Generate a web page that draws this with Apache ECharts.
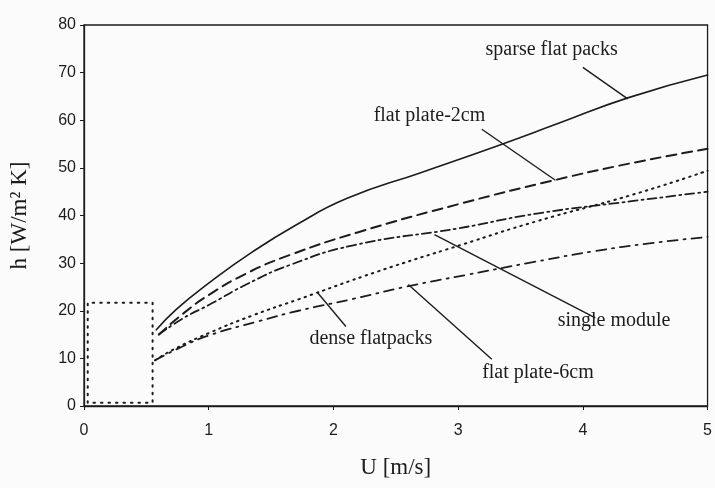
<!DOCTYPE html>
<html>
<head>
<meta charset="utf-8">
<script src="https://cdn.jsdelivr.net/npm/echarts@6/dist/echarts.min.js"></script>
<style>
  html, body { margin: 0; padding: 0; background: #fbfbfb; }
  #chart { width: 715px; height: 488px; }
</style>
</head>
<body>
<div id="chart"></div>
<script>
// values (U in m/s, h in W/m2K)
const sparseU = [0.58, 0.74, 1.0, 1.33, 1.7, 2.11, 2.7, 3.29, 3.8, 4.36, 5.0];
const sparseH = [16.0, 20.3, 25.8, 32.0, 38.0, 43.6, 49.0, 54.4, 59.3, 64.7, 69.5];

const plate2U = [0.6, 0.8, 1.0, 1.3, 1.65, 2.2, 3.02, 3.77, 4.39, 5.0];
const plate2H = [15.0, 19.5, 23.3, 27.8, 31.7, 36.5, 42.5, 47.4, 51.0, 54.0];

const singleU = [0.6, 0.8, 1.0, 1.3, 1.65, 2.17, 3.0, 3.63, 4.39, 5.0];
const singleH = [15.0, 18.5, 21.2, 25.5, 29.6, 33.8, 37.3, 40.4, 43.0, 45.0];

const denseU = [0.57, 0.72, 1.0, 1.35, 1.72, 2.35, 3.02, 3.63, 4.39, 5.0];
const denseH = [9.6, 11.9, 15.3, 19.0, 22.4, 28.2, 33.8, 38.8, 44.3, 49.4];

const plate6U = [0.57, 0.75, 1.0, 1.4, 1.72, 2.16, 2.59, 3.06, 3.6, 4.09, 4.55, 5.0];
const plate6H = [9.6, 12.0, 14.8, 17.8, 20.0, 22.5, 25.1, 27.5, 30.2, 32.5, 34.2, 35.5];

// dotted box near the origin
const boxU = [0.03, 0.03, 0.55, 0.55, 0.03];
const boxH = [0.7, 21.7, 21.7, 0.7, 0.7];

const xTicks = [0, 1, 2, 3, 4, 5];
const yTicks = [0, 10, 20, 30, 40, 50, 60, 70, 80];

// annotation texts and their leader lines (data coords)
const labelTexts = ['sparse flat packs', 'flat plate-2cm', 'dense flatpacks', 'single module', 'flat plate-6cm'];
const labelU = [3.75, 2.77, 2.30, 4.25, 3.64];
const labelH = [74.7, 60.9, 14.1, 17.9, 7.0];
const leaderFrom = [[4.00, 71.1], [3.19, 58.1], [2.10, 16.7], [4.10, 18.5], [3.27, 9.8]];
const leaderTo = [[4.36, 64.5], [3.78, 47.4], [1.87, 23.9], [2.81, 36.0], [2.60, 25.5]];

const ink = '#1c1c1c';
const zip = (xs, ys) => xs.map((x, i) => [x, ys[i]]);

const chart = echarts.init(document.getElementById('chart'), null, { renderer: 'canvas' });

const lineSeries = (name, xs, ys, type, width, smooth) => ({
  name: name,
  type: 'line',
  data: zip(xs, ys),
  symbol: 'none',
  smooth: smooth,
  silent: true,
  lineStyle: { color: ink, width: width, type: type, cap: 'round' }
});

const option = {
  backgroundColor: '#fbfbfb',
  animation: false,
  grid: {
    left: 81,
    right: 2,
    top: 25,
    bottom: 82,
    show: true,
    borderColor: ink,
    borderWidth: 1.3,
    containLabel: false
  },
  xAxis: {
    type: 'value',
    min: xTicks[0],
    max: xTicks[xTicks.length - 1],
    interval: 1,
    name: 'U [m/s]',
    nameLocation: 'middle',
    nameGap: 50,
    nameTextStyle: { fontFamily: 'Liberation Serif', fontSize: 23, color: ink },
    axisLine: { lineStyle: { color: ink, width: 1.3 } },
    axisTick: { length: 4, lineStyle: { color: ink } },
    axisLabel: { margin: 17, fontFamily: 'Liberation Sans', fontSize: 16, color: ink },
    splitLine: { show: false }
  },
  yAxis: {
    type: 'value',
    min: yTicks[0],
    max: yTicks[yTicks.length - 1],
    interval: 10,
    name: 'h [W/m² K]',
    nameLocation: 'middle',
    nameGap: 53,
    nameRotate: 90,
    nameTextStyle: { fontFamily: 'Liberation Serif', fontSize: 23, color: ink },
    axisLine: { lineStyle: { color: ink, width: 1.3 } },
    axisTick: { length: 4, lineStyle: { color: ink } },
    axisLabel: { margin: 8, fontFamily: 'Liberation Sans', fontSize: 16, color: ink },
    splitLine: { show: false }
  },
  series: [
    lineSeries('sparse flat packs', sparseU, sparseH, 'solid', 1.6, 0.5),
    lineSeries('flat plate-2cm', plate2U, plate2H, [10, 6], 2, 0.5),
    lineSeries('single module', singleU, singleH, [9, 4, 2, 4], 1.8, 0.5),
    lineSeries('dense flatpacks', denseU, denseH, [1.5, 5], 2, 0.5),
    lineSeries('flat plate-6cm', plate6U, plate6H, [10, 6, 2, 6], 1.8, 0.5),
    lineSeries('box', boxU, boxH, [1.5, 6], 2, false),
    {
      name: 'leaders',
      type: 'line',
      data: [],
      silent: true,
      markLine: {
        symbol: 'none',
        silent: true,
        label: { show: false },
        lineStyle: { color: ink, width: 1.4, type: 'solid' },
        data: leaderFrom.map((p, i) => [{ coord: p }, { coord: leaderTo[i] }])
      }
    }
  ]
};

chart.setOption(option);

// place annotation texts at their data positions
chart.setOption({
  graphic: labelTexts.map((t, i) => {
    const pt = chart.convertToPixel({ gridIndex: 0 }, [labelU[i], labelH[i]]);
    return {
      type: 'text',
      x: pt[0],
      y: pt[1],
      silent: true,
      style: {
        text: t,
        fill: ink,
        font: '20px "Liberation Serif"',
        align: 'center',
        verticalAlign: 'middle'
      }
    };
  })
});
</script>
</body>
</html>
